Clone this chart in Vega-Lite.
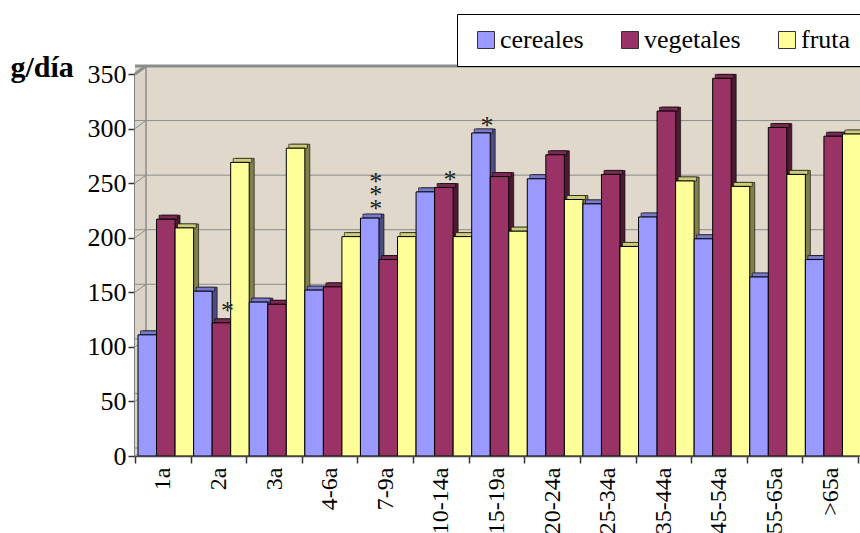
{"$schema":"https://vega.github.io/schema/vega-lite/v6.json","width":723,"height":382,"autosize":"none","padding":{"left":135,"top":74,"right":2,"bottom":77},"background":"white","config":{"view":{"stroke":null},"font":"Liberation Serif"},
"datasets":{"bars":[
{"edad":"1a","grupo":"cereales","g":111},{"edad":"1a","grupo":"vegetales","g":217},{"edad":"1a","grupo":"fruta","g":209},
{"edad":"2a","grupo":"cereales","g":151},{"edad":"2a","grupo":"vegetales","g":122},{"edad":"2a","grupo":"fruta","g":269},
{"edad":"3a","grupo":"cereales","g":141},{"edad":"3a","grupo":"vegetales","g":139},{"edad":"3a","grupo":"fruta","g":282},
{"edad":"4-6a","grupo":"cereales","g":152},{"edad":"4-6a","grupo":"vegetales","g":155},{"edad":"4-6a","grupo":"fruta","g":201},
{"edad":"7-9a","grupo":"cereales","g":218},{"edad":"7-9a","grupo":"vegetales","g":180},{"edad":"7-9a","grupo":"fruta","g":201},
{"edad":"10-14a","grupo":"cereales","g":242},{"edad":"10-14a","grupo":"vegetales","g":246},{"edad":"10-14a","grupo":"fruta","g":201},
{"edad":"15-19a","grupo":"cereales","g":296},{"edad":"15-19a","grupo":"vegetales","g":256},{"edad":"15-19a","grupo":"fruta","g":206},
{"edad":"20-24a","grupo":"cereales","g":254},{"edad":"20-24a","grupo":"vegetales","g":276},{"edad":"20-24a","grupo":"fruta","g":235},
{"edad":"25-34a","grupo":"cereales","g":231},{"edad":"25-34a","grupo":"vegetales","g":258},{"edad":"25-34a","grupo":"fruta","g":192},
{"edad":"35-44a","grupo":"cereales","g":219},{"edad":"35-44a","grupo":"vegetales","g":316},{"edad":"35-44a","grupo":"fruta","g":252},
{"edad":"45-54a","grupo":"cereales","g":199},{"edad":"45-54a","grupo":"vegetales","g":346},{"edad":"45-54a","grupo":"fruta","g":247},
{"edad":"55-65a","grupo":"cereales","g":164},{"edad":"55-65a","grupo":"vegetales","g":301},{"edad":"55-65a","grupo":"fruta","g":258},
{"edad":">65a","grupo":"cereales","g":180},{"edad":">65a","grupo":"vegetales","g":293},{"edad":">65a","grupo":"fruta","g":295}],
"grid":[{"v":0},{"v":50},{"v":100},{"v":150},{"v":200},{"v":250},{"v":300}],
"stars":[{"edad":"2a","grupo":"vegetales","g":138},{"edad":"7-9a","grupo":"cereales","g":232},{"edad":"7-9a","grupo":"cereales","g":245},{"edad":"7-9a","grupo":"cereales","g":257},{"edad":"10-14a","grupo":"vegetales","g":258},{"edad":"15-19a","grupo":"cereales","g":308}]},
"encoding":{
"x":{"field":"edad","type":"nominal","sort":null,"scale":{"domain":["1a","2a","3a","4-6a","7-9a","10-14a","15-19a","20-24a","25-34a","35-44a","45-54a","55-65a",">65a"],"paddingInner":0,"paddingOuter":0},"title":null,"axis":{"labelAngle":270,"labelFontSize":24,"labelFont":"Liberation Serif","labelColor":"#000000","labelPadding":4,"labelAlign":"right","labelBaseline":"middle","tickBand":"extent","tickSize":7,"tickColor":"#333333","tickWidth":1.5,"domainColor":"#444444","domainWidth":1.5,"grid":false,"labelOverlap":false}}
},
"layer":[
{"data":{"values":[{"lo":0,"hi":350}]},"mark":{"type":"rect","fill":"#dfd8cb","xOffset":11,"yOffset":-8,"y2Offset":-8,"x2Offset":11},"encoding":{"x":null,"y":{"field":"lo","type":"quantitative","scale":{"domain":[0,350],"nice":false,"zero":true},"title":"g/día","axis":{"values":[0,50,100,150,200,250,300,350],"labelFontSize":26,"labelFont":"Liberation Serif","labelColor":"#000000","labelPadding":2,"tickSize":7,"tickColor":"#333333","tickWidth":1.5,"domainColor":"#808080","domainWidth":3,"grid":false,"titleAngle":0,"titleFontSize":30,"titleFontWeight":"bold","titleFont":"Liberation Serif","titleAlign":"left","titleBaseline":"alphabetic","titleX":-125,"titleY":2,"titleColor":"#000000"}},"y2":{"field":"hi"}}},
{"data":{"values":[{"lo":0,"hi":350}]},"mark":{"type":"rect","fill":"#dad3c6","x2Offset":-16.8},"encoding":{"x":{"datum":"1a","bandPosition":0},"x2":{"datum":"1a"},"y":{"field":"lo","type":"quantitative"},"y2":{"field":"hi"}}},
{"data":{"name":"grid"},"mark":{"type":"rule","stroke":"#8c8c8c","strokeWidth":1,"xOffset":11,"yOffset":-8},"encoding":{"x":null,"y":{"field":"v","type":"quantitative"}}},
{"data":{"values":[{"v":350}]},"mark":{"type":"rule","stroke":"#8c8c8c","strokeWidth":3,"xOffset":11,"yOffset":-8},"encoding":{"x":null,"y":{"field":"v","type":"quantitative"}}},
{"data":{"name":"grid"},"mark":{"type":"rule","stroke":"#8c8c8c","strokeWidth":1,"x2Offset":-16.8,"y2Offset":-8},"encoding":{"x":{"datum":"1a","bandPosition":0},"x2":{"datum":"1a"},"y":{"field":"v","type":"quantitative"},"y2":{"field":"v"}}},
{"data":{"values":[{"v":350}]},"mark":{"type":"rule","stroke":"#8c8c8c","strokeWidth":3,"x2Offset":-16.8,"y2Offset":-8},"encoding":{"x":{"datum":"1a","bandPosition":0},"x2":{"datum":"1a"},"y":{"field":"v","type":"quantitative"},"y2":{"field":"v"}}},
{"data":{"values":[{"lo":0,"hi":350}]},"mark":{"type":"rule","stroke":"#8c8c8c","strokeWidth":1.5,"xOffset":11,"yOffset":-8,"y2Offset":-8},"encoding":{"x":{"datum":"1a","bandPosition":0},"y":{"field":"lo","type":"quantitative"},"y2":{"field":"hi"}}},
{"data":{"name":"bars"},"mark":{"type":"bar","yOffset":-4,"y2Offset":-4,"stroke":"#000000","strokeWidth":0.6},"encoding":{"xOffset":{"field":"grupo","type":"nominal","sort":["cereales","vegetales","fruta"],"scale":{"domain":["cereales","vegetales","fruta"],"range":[8,63.6],"paddingInner":0,"paddingOuter":0}},"y":{"field":"g","type":"quantitative"},"color":{"field":"grupo","type":"nominal","legend":null,"scale":{"domain":["cereales","vegetales","fruta"],"range":["#4d4d80","#4d1a33","#80804d"]}}}},
{"data":{"name":"bars"},"mark":{"type":"bar","yOffset":-4,"stroke":"#000000","strokeWidth":0.6},"encoding":{"xOffset":{"field":"grupo","type":"nominal","sort":["cereales","vegetales","fruta"],"scale":{"domain":["cereales","vegetales","fruta"],"range":[5.5,61.1],"paddingInner":0,"paddingOuter":0}},"y":{"field":"g","type":"quantitative"},"y2":{"field":"g"},"color":{"field":"grupo","type":"nominal","legend":null,"scale":{"domain":["cereales","vegetales","fruta"],"range":["#7a7acc","#7a2952","#cccc7a"]}}}},
{"data":{"name":"bars"},"mark":{"type":"bar","stroke":"#000000","strokeWidth":1},"encoding":{"xOffset":{"field":"grupo","type":"nominal","sort":["cereales","vegetales","fruta"],"scale":{"domain":["cereales","vegetales","fruta"],"range":[3,58.6],"paddingInner":0,"paddingOuter":0}},"y":{"field":"g","type":"quantitative"},"color":{"field":"grupo","type":"nominal","scale":{"domain":["cereales","vegetales","fruta"],"range":["#9999ff","#993366","#ffff99"]},"legend":{"title":null,"orient":"none","legendX":322,"legendY":-60,"direction":"horizontal","columns":3,"columnPadding":30,"symbolType":"square","symbolSize":289,"symbolOffset":3,"symbolStrokeColor":"#333333","symbolStrokeWidth":1,"symbolOpacity":1,"labelFontSize":26,"labelFont":"Liberation Serif","labelColor":"#000000","labelOffset":1,"fillColor":"#ffffff","strokeColor":"#000000","padding":13}}}},
{"data":{"name":"stars"},"mark":{"type":"text","text":"*","fontSize":26,"font":"Liberation Serif","color":"#222222","dy":6},"encoding":{"xOffset":{"field":"grupo","type":"nominal","sort":["cereales","vegetales","fruta"],"scale":{"type":"band","domain":["cereales","vegetales","fruta"],"range":[9,64.6],"paddingInner":0,"paddingOuter":0}},"y":{"field":"g","type":"quantitative"}}}
],
"resolve":{"scale":{"color":"independent","xOffset":"independent"}}}
